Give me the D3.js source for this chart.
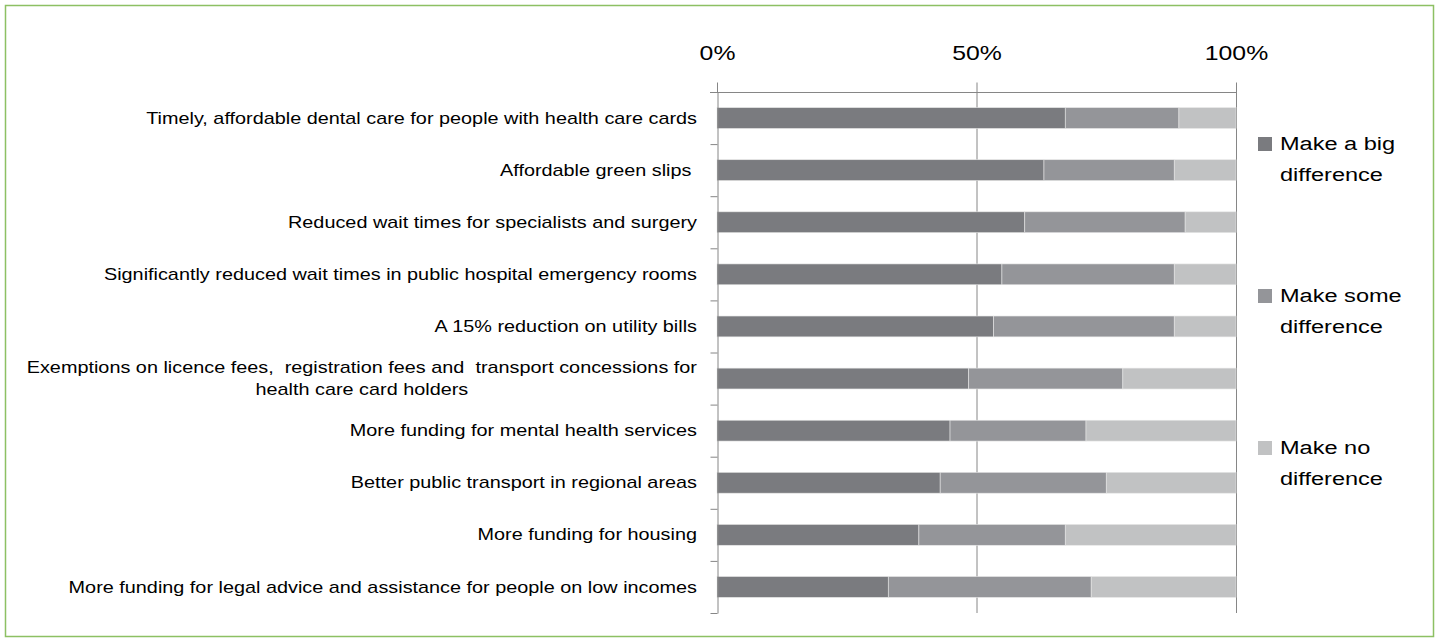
<!DOCTYPE html>
<meta charset="utf-8">
<style>
body { margin: 0; background: #fff; }
.axis path, .axis line { stroke: #868686; }
.cat { font: 16px "Liberation Sans", Arial, sans-serif; fill: #000; white-space: pre; }
.tick-label { font: 20px "Liberation Sans", Arial, sans-serif; fill: #000; }
.legend text { font: 19px "Liberation Sans", Arial, sans-serif; fill: #000; }
</style>
<body>
<script src="https://d3js.org/d3.v7.min.js"></script>
<script>

// categories, top to bottom
var categories = [
  "Timely, affordable dental care for people with health care cards",
  "Affordable green slips ",
  "Reduced wait times for specialists and surgery",
  "Significantly reduced wait times in public hospital emergency rooms",
  "A 15% reduction on utility bills",
  "Exemptions on licence fees,  registration fees and  transport concessions for\nhealth care card holders",
  "More funding for mental health services",
  "Better public transport in regional areas",
  "More funding for housing",
  "More funding for legal advice and assistance for people on low incomes"
];

// shares in percent
var bigDiff  = [67.1, 63.0, 59.3, 54.9, 53.3, 48.5, 44.9, 43.0, 38.9, 33.0];
var someDiff = [21.9, 25.1, 30.9, 33.2, 34.8, 29.7, 26.2, 32.0, 28.2, 39.1];
var noDiff   = [11.0, 11.9,  9.8, 11.9, 11.9, 21.8, 28.9, 25.0, 32.9, 27.9];

var seriesNames = ["Make a big\ndifference", "Make some\ndifference", "Make no\ndifference"];
var seriesColors = ["#7a7b7f", "#949599", "#c1c2c3"];
var tickValues = [0, 50, 100];

var W = 1436, H = 642;
var plotL = 717, plotR = 1236, plotT = 92, plotB = 613;
var stretch = 1.24;  // the original text is wide, like a condensed font stretched out

function stretchAt(ax) {
  return "translate(" + ax + ",0) scale(" + stretch + ",1) translate(" + (-ax) + ",0)";
}

var svg = d3.select("body").append("svg")
    .attr("width", W)
    .attr("height", H);

// green frame
svg.append("rect")
    .attr("x", 5.5).attr("y", 5.5)
    .attr("width", 1428).attr("height", 631)
    .attr("fill", "#fff")
    .attr("stroke", "#8dc063")
    .attr("stroke-width", 1.5);

var x = d3.scaleLinear().domain([0, 100]).range([plotL, plotR]);
var y = d3.scaleBand().domain(d3.range(categories.length))
    .range([plotT, plotB]).paddingInner(0.6).paddingOuter(0.3);

// build stacked table from arrays
var rows = categories.map(function(c, i) {
  return { i: i, big: bigDiff[i], some: someDiff[i], none: noDiff[i] };
});
var stack = d3.stack().keys(["big", "some", "none"])(rows);

// vertical gridlines
svg.append("g")
  .selectAll("line")
  .data(tickValues.slice(1))
  .enter().append("line")
    .attr("x1", function(d) { return x(d) + 0.5; })
    .attr("x2", function(d) { return x(d) + 0.5; })
    .attr("y1", plotT).attr("y2", plotB)
    .attr("stroke", "#868686");

// bars
svg.append("g")
  .selectAll("g")
  .data(stack)
  .enter().append("g")
    .attr("fill", function(d, k) { return seriesColors[k]; })
  .selectAll("rect")
  .data(function(d) { return d; })
  .enter().append("rect")
    .attr("x", function(d) { return x(d[0]); })
    .attr("width", function(d) { return x(d[1]) - x(d[0]); })
    .attr("y", function(d) { return y(d.data.i); })
    .attr("height", y.bandwidth())
    .attr("stroke", "#e6e6e6")
    .attr("stroke-width", 0.6);

// top axis
var xAxis = svg.append("g")
    .attr("class", "axis")
    .attr("transform", "translate(0," + (plotT + 0.5) + ")")
    .call(d3.axisTop(x).tickValues(tickValues).tickSize(10).tickSizeOuter(0)
      .tickFormat(function(d) { return d + "%"; }));
xAxis.select(".domain").attr("d", "M" + (plotL - 7) + ",0H" + plotR);
xAxis.attr("font-size", null).attr("font-family", null);
xAxis.selectAll(".tick text")
    .attr("class", "tick-label")
    .attr("y", -40)
    .attr("dy", "0.35em")
    .attr("transform", stretchAt(0));

// left axis with ticks on band boundaries
var yLine = d3.scaleLinear().domain([0, categories.length]).range([plotT, plotB]);
var yAxis = svg.append("g")
    .attr("class", "axis")
    .attr("transform", "translate(" + (plotL + 0.5) + ",0)")
    .call(d3.axisLeft(yLine).ticks(categories.length).tickSize(7).tickSizeOuter(0).tickFormat(""));
yAxis.selectAll(".tick").filter(function(d) { return d === 0; }).remove();

// category labels
var labelRight = 697;
var labels = svg.append("g")
  .selectAll("text")
  .data(categories)
  .enter().append("text")
    .attr("class", "cat")
    .attr("transform", stretchAt(labelRight));

labels.each(function(c, i) {
  var t = d3.select(this);
  var lines = c.split("\n");
  var cy = y(i) + y.bandwidth() / 2;
  lines.forEach(function(line, j) {
    t.append("tspan")
      .attr("y", cy + (j - (lines.length - 1) / 2) * 22)
      .attr("dy", "0.35em")
      .text(line);
  });
  var widths = [];
  t.selectAll("tspan").each(function() { widths.push(this.getComputedTextLength()); });
  var maxW = d3.max(widths);
  t.attr("text-anchor", "middle");
  t.selectAll("tspan").attr("x", labelRight - maxW / 2);
});

// legend
var legendY = [158, 310, 462];
var legend = svg.append("g")
    .attr("class", "legend")
  .selectAll("g")
  .data(seriesNames)
  .enter().append("g")
    .attr("transform", function(d, k) { return "translate(1258," + legendY[k] + ")"; });

legend.append("rect")
    .attr("x", 0).attr("y", -21)
    .attr("width", 14).attr("height", 14)
    .attr("fill", function(d, k) { return seriesColors[k]; });

legend.append("text")
    .attr("transform", stretchAt(22))
  .selectAll("tspan")
  .data(function(d) { return d.split("\n"); })
  .enter().append("tspan")
    .attr("x", 22)
    .attr("y", function(d, j) { return -15 + j * 31; })
    .attr("dy", "0.35em")
    .text(function(d) { return d; });

</script>
</body>
